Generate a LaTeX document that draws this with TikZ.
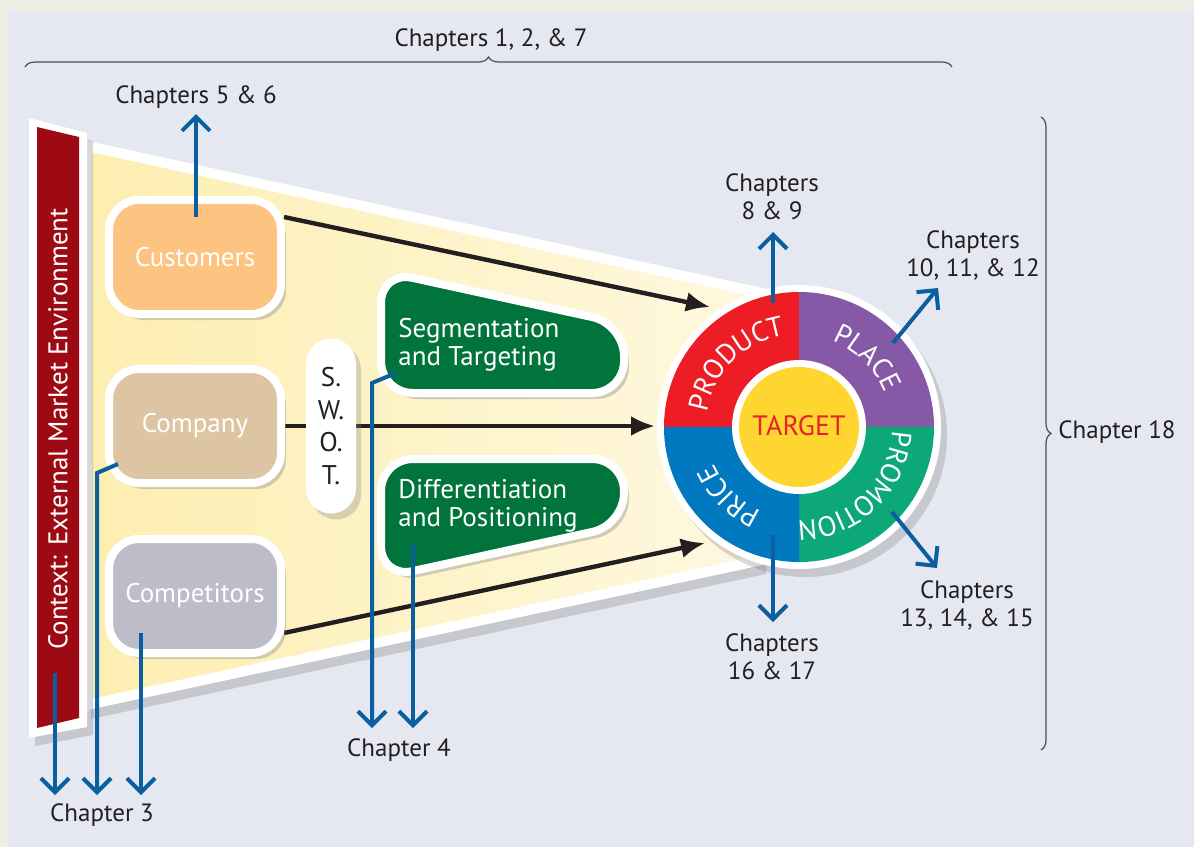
\documentclass[tikz,border=0pt]{standalone}
\usepackage{fontspec}
\setmainfont{PT Sans}
\usetikzlibrary{arrows.meta,shadows,decorations.pathreplacing}

\definecolor{paper}{HTML}{EEEEE4}
\definecolor{panel}{HTML}{E5E8F1}
\definecolor{ink}{HTML}{231F20}
\definecolor{chblue}{HTML}{0A5FA0}
\definecolor{funl}{HTML}{FDEEB0}
\definecolor{funr}{HTML}{FEF8E0}
\definecolor{ctxred}{HTML}{9E0A13}
\definecolor{custcol}{HTML}{FCC381}
\definecolor{compcol}{HTML}{DDC5A3}
\definecolor{rivalcol}{HTML}{BCBDC9}
\definecolor{mixgreen}{HTML}{00743B}
\definecolor{prodred}{HTML}{EE1C25}
\definecolor{placepurple}{HTML}{8559A5}
\definecolor{promogreen}{HTML}{0CA878}
\definecolor{priceblue}{HTML}{0079C0}
\definecolor{targetyellow}{HTML}{FFD530}
\definecolor{targetred}{HTML}{E52329}

\begin{document}
\begin{tikzpicture}[x=0.5pt,y=0.5pt,
  lbl/.style={text=ink,font=\fontsize{12.5}{14}\selectfont,align=center,inner sep=0pt},
  chbrace/.style={decorate,decoration={brace,amplitude=5pt},draw=ink!80,line width=0.6pt},
  box/.style={draw=white,line width=4pt,rounded corners=15pt,minimum width=86pt,minimum height=57pt,
    text=white,font=\fontsize{13.5}{16}\selectfont,
    drop shadow={shadow xshift=2.5pt,shadow yshift=-3pt,opacity=.35}},
  swotpill/.style={fill=white,rounded corners=12.5pt,minimum width=25pt,minimum height=87.5pt,inner sep=0pt,
    align=center,text=ink,font=\fontsize{13.5}{16.3}\selectfont,
    drop shadow={shadow xshift=2.5pt,shadow yshift=-3pt,opacity=.3}},
  greenbox/.style={fill=mixgreen,draw=white,line width=4pt,rounded corners=16pt,
    drop shadow={shadow xshift=2.5pt,shadow yshift=-3pt,opacity=.35}},
  gtext/.style={anchor=west,align=left,text=white,inner sep=0pt,font=\fontsize{13.5}{14}\selectfont},
  ring/.style={text=white,inner sep=0pt,font=\fontsize{14}{14}\selectfont},
  bluearrow/.style={draw=chblue,line width=2pt,-{Straight Barb[length=7pt,width=14pt]}},
  blackarrow/.style={draw=ink,line width=2.2pt,-{Latex[length=12pt,width=10pt]}}]

% backdrop
\fill[paper] (0,0) rectangle (1194,-847);
\fill[panel] (8,-11) rectangle (1194,-847);
\useasboundingbox (0,0) rectangle (1194,-847);

% braces
\draw[chbrace] (25,-67) -- (952,-67);
\node[lbl] (ch127) at (491,-40) {Chapters 1, 2, \& 7};
\draw[chbrace] (1041,-117) -- (1041,-750);
\node[lbl,anchor=west] (ch18) at (1058,-432) {Chapter 18};

% funnel
\path[draw=white,line width=5pt,left color=funl,right color=funr,
  drop shadow={shadow xshift=2pt,shadow yshift=-7pt,opacity=.3}]
  (87,-146) -- (762,-293) -- (762,-560) -- (87,-705) -- cycle;

% black arrows into the target
\coordinate (custout) at (284,-217);
\coordinate (custin) at (710,-307);
\coordinate (compout) at (284,-426);
\coordinate (compin) at (655,-426);
\coordinate (rivalout) at (284,-633);
\coordinate (rivalin) at (705,-543);
\draw[blackarrow] (custout) -- (custin);
\draw[blackarrow] (compout) -- (compin);
\draw[blackarrow] (rivalout) -- (rivalin);

% context bar
\fill[white,drop shadow={shadow xshift=3pt,shadow yshift=-4pt,opacity=.3}]
  (29,-118) -- (87,-133) -- (87,-727) -- (29,-738) -- cycle;
\fill[ctxred] (37,-127) -- (79,-137) -- (79,-718) -- (37,-728) -- cycle;
\node[rotate=90,text=white,font=\fontsize{13.5}{14}\selectfont] (ctx) at (58,-429)
  {Context: External Market Environment};

% the three Cs
\node[box,fill=custcol] (cust) at (195,-257) {Customers};
\node[box,fill=compcol] (comp) at (195,-426) {Company};
\node[box,fill=rivalcol] (rival) at (195,-596) {Competitors};
\node[swotpill] (swot) at (331,-426) {S.\\W.\\O.\\T.};

% strategy boxes
\path[greenbox] (381,-271) -- (624,-324) -- (624,-393) -- (381,-393) -- cycle;
\node[gtext] (seg) at (398,-345) {Segmentation\\and Targeting};
\path[greenbox] (381,-459) -- (624,-459) -- (624,-525) -- (381,-578) -- cycle;
\node[gtext] (diff) at (398,-506) {Differentiation\\and Positioning};

% marketing mix wheel
\begin{scope}[shift={(799,-427)}]
  \path[fill=white,drop shadow={shadow xshift=3pt,shadow yshift=-4pt,opacity=.3}] (0,0) circle[radius=142];
  \fill[prodred] (0,0) -- (-135,0) arc[start angle=180,end angle=90,radius=135] -- cycle;
  \fill[placepurple] (0,0) -- (0,135) arc[start angle=90,end angle=0,radius=135] -- cycle;
  \fill[promogreen] (0,0) -- (135,0) arc[start angle=0,end angle=-90,radius=135] -- cycle;
  \fill[priceblue] (0,0) -- (0,-135) arc[start angle=-90,end angle=-180,radius=135] -- cycle;
  \fill[white] (0,0) circle[radius=67];
  \fill[targetyellow] (0,0) circle[radius=60];
  \node[text=targetred,font=\fontsize{14}{14}\selectfont] (target) at (0,1) {TARGET};
  % letters on the ring, tops outward
  \foreach \ch/\a [count=\i] in {P/166,R/156.3,O/145.6,D/134.4,U/123.3,C/112.8,T/103.5}
    \node[ring,rotate=\a-90] (prod\i) at (\a:103) {\ch};
  \foreach \ch/\a [count=\i] in {P/64,L/55,A/45.8,C/35.7,E/26}
    \node[ring,rotate=\a-90] (place\i) at (\a:102) {\ch};
  \foreach \ch/\a [count=\i] in {P/-7,R/-16.3,O/-26.6,M/-38.6,O/-50.6,T/-60.2,I/-66.5,O/-74.2,N/-85.2}
    \node[ring,rotate=\a-90] (promo\i) at (\a:103) {\ch};
  \foreach \ch/\a [count=\i] in {P/-119,R/-128.5,I/-135.7,C/-142.9,E/-152.2}
    \node[ring,rotate=\a-90] (price\i) at (\a:102) {\ch};
\end{scope}

% blue arrows to chapters
\coordinate (custfoot) at (196,-217);
\coordinate (custtip) at (196,-114);
\coordinate (ctxfoot) at (55,-673);
\coordinate (ctxtip) at (55,-795);
\coordinate (compfoot) at (118,-464);
\coordinate (compbend) at (97,-473);
\coordinate (comptip) at (97,-795);
\coordinate (rivalfoot) at (141,-633);
\coordinate (rivaltip) at (141,-795);
\coordinate (segfoot) at (396,-373);
\coordinate (segbend) at (372,-383);
\coordinate (segtip) at (372,-728);
\coordinate (difffoot) at (413,-545);
\coordinate (difftip) at (413,-728);
\coordinate (prodfoot) at (773,-303);
\coordinate (prodtip) at (773,-232);
\coordinate (placefoot) at (893,-343);
\coordinate (placetip) at (938,-288);
\coordinate (promofoot) at (892,-512);
\coordinate (promotip) at (937,-568);
\coordinate (pricefoot) at (773,-535);
\coordinate (pricetip) at (773,-622);
\draw[bluearrow] (custfoot) -- (custtip);
\draw[bluearrow] (ctxfoot) -- (ctxtip);
\draw[bluearrow] (compfoot) -- (compbend) -- (comptip);
\draw[bluearrow] (rivalfoot) -- (rivaltip);
\draw[bluearrow] (segfoot) -- (segbend) -- (segtip);
\draw[bluearrow] (difffoot) -- (difftip);
\draw[bluearrow] (prodfoot) -- (prodtip);
\draw[bluearrow] (placefoot) -- (placetip);
\draw[bluearrow] (promofoot) -- (promotip);
\draw[bluearrow] (pricefoot) -- (pricetip);

% chapter labels
\node[lbl] (ch56) at (196,-97) {Chapters 5 \& 6};
\node[lbl] (ch3) at (102,-815) {Chapter 3};
\node[lbl] (ch4) at (399,-750) {Chapter 4};
\node[lbl] (ch89) at (772,-197) {Chapters\\8 \& 9};
\node[lbl] (ch1012) at (973,-255) {Chapters\\10, 11, \& 12};
\node[lbl] (ch1315) at (967,-605) {Chapters\\13, 14, \& 15};
\node[lbl] (ch1617) at (772,-657) {Chapters\\16 \& 17};
\end{tikzpicture}
\end{document}
